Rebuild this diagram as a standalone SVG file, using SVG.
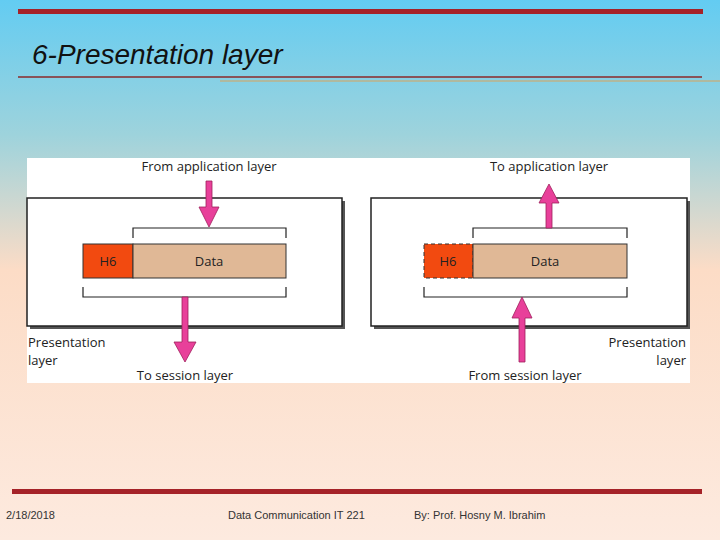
<svg xmlns="http://www.w3.org/2000/svg" width="720" height="540" viewBox="0 0 720 540">
<defs>
<linearGradient id="bg" x1="0" y1="0" x2="0" y2="1">
<stop offset="0" stop-color="#63ccf2"/><stop offset="0.25" stop-color="#9ed3dc"/><stop offset="0.5" stop-color="#fcdcc6"/><stop offset="1" stop-color="#fdeadf"/>
</linearGradient>
<marker id="ah" viewBox="0 0 10 10" refX="5" refY="5" markerWidth="1" markerHeight="1" orient="auto"/>
</defs>
<style>
.t{font-family:"Open Sans","Liberation Sans",sans-serif;font-size:13px;fill:#222}
.box{fill:#fff;stroke:#222;stroke-width:1.5}
.br{fill:none;stroke:#222;stroke-width:1.2}
.arr{fill:#e8409a;stroke:#a0205c;stroke-width:0.8}
.f{font-family:"Liberation Sans Narrow","Liberation Sans",sans-serif;font-size:11px;fill:#333}
</style>
<rect width="720" height="540" fill="url(#bg)"/>
<rect x="18" y="9" width="685" height="5" fill="#a52228"/>
<text x="32" y="64" font-family="Liberation Sans,sans-serif" font-size="28" font-style="italic" fill="#111">6-Presentation layer</text>
<line x1="18" y1="77" x2="702" y2="77" stroke="#8b2a2a" stroke-width="1.5"/>
<line x1="220" y1="81" x2="720" y2="81" stroke="#d9a25a" stroke-width="1"/>
<rect x="27" y="158" width="663" height="225" fill="#fff"/>
<g id="left">
<rect x="30" y="201" width="315" height="128" fill="#555"/>
<rect x="27" y="198" width="315" height="128" class="box"/>
<path class="br" d="M133 238V228H286V238M83 287V297H286V287"/>
<rect x="83" y="244" width="50" height="34" fill="#f24a10" stroke="#333"/>
<rect x="133" y="244" width="153" height="34" fill="#e0b896" stroke="#333"/>
<text x="108" y="266" class="t" text-anchor="middle" fill="#222">H6</text>
<text x="209" y="266" class="t" text-anchor="middle">Data</text>
<text x="209" y="171" class="t" text-anchor="middle">From application layer</text>
<text x="185" y="380" class="t" text-anchor="middle">To session layer</text>
<text x="28" y="347" class="t">Presentation</text>
<text x="28" y="365" class="t">layer</text>
</g>
<g id="right">
<rect x="374" y="201" width="316" height="128" fill="#555"/>
<rect x="371" y="198" width="316" height="128" class="box"/>
<path class="br" d="M473 238V228H627V238M424 287V297H627V287"/>
<rect x="424" y="244" width="49" height="34" fill="#f24a10" stroke="#333" stroke-dasharray="4,3"/>
<rect x="473" y="244" width="154" height="34" fill="#e0b896" stroke="#333"/>
<text x="448" y="266" class="t" text-anchor="middle">H6</text>
<text x="545" y="266" class="t" text-anchor="middle">Data</text>
<text x="549" y="171" class="t" text-anchor="middle">To application layer</text>
<text x="525" y="380" class="t" text-anchor="middle">From session layer</text>
<text x="686" y="347" class="t" text-anchor="end">Presentation</text>
<text x="686" y="365" class="t" text-anchor="end">layer</text>
</g>
<g id="connectors">
<path class="arr" d="M206 181H212V207H219L209 227L199 207H206Z"/>
<path class="arr" d="M182 297H188V342H196L185 362L174 342H182Z"/>
<path class="arr" d="M546 228H552V203H559L549 184L539 203H546Z"/>
<path class="arr" d="M519 362H525V318H532L522 297L512 318H519Z"/>
</g>
<rect x="12" y="489" width="690" height="5" fill="#a52228"/>
<text x="6" y="519" class="f">2/18/2018</text>
<text x="228" y="519" class="f">Data Communication  IT 221</text>
<text x="414" y="519" class="f">By: Prof. Hosny M. Ibrahim</text>
</svg>
